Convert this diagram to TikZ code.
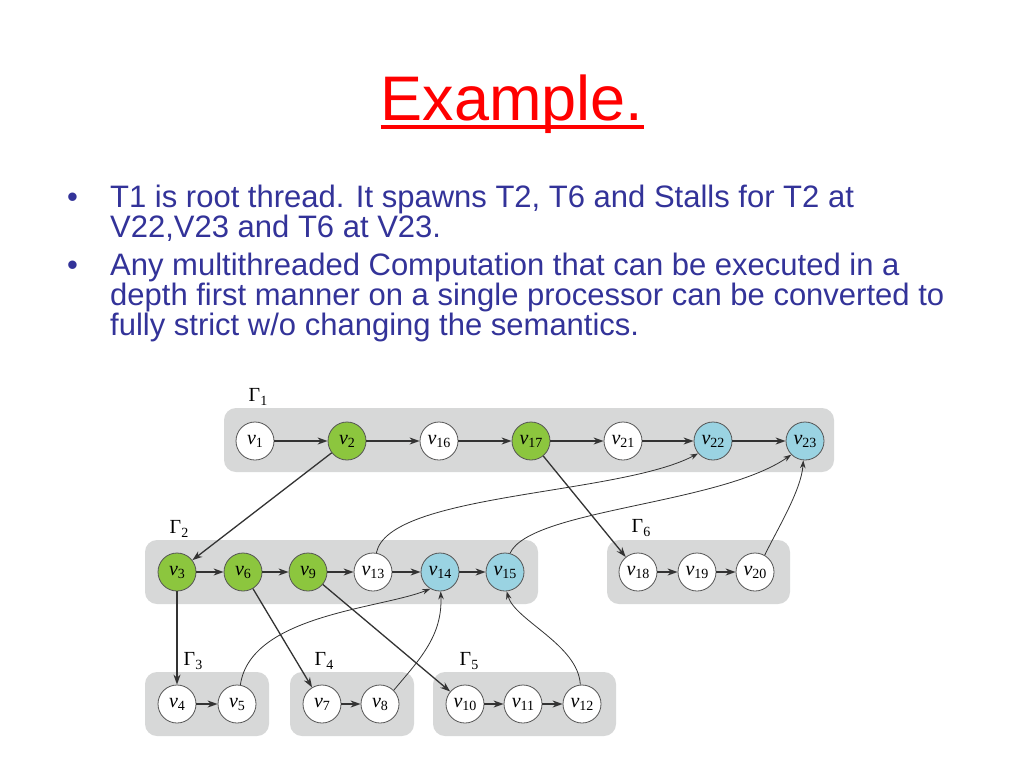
\documentclass[tikz,border=0pt]{standalone}
\usepackage{fontspec}
\setmainfont{Liberation Sans}
\newfontfamily\nodefont{Liberation Serif}
\usetikzlibrary{arrows.meta}
\definecolor{vgreen}{HTML}{8CC63E}
\definecolor{vblue}{HTML}{9AD3E2}
\definecolor{boxgray}{HTML}{D7D8D8}
\definecolor{tblue}{HTML}{333399}
\definecolor{linegray}{HTML}{333333}
\definecolor{rimgray}{HTML}{555555}
\newcommand\vl[1]{{\fontsize{20}{20}\selectfont\itshape v}\kern-0.3pt\raisebox{-3pt}{\fontsize{14}{14}\selectfont #1}}
\newcommand\gam[1]{{\fontsize{20}{20}\selectfont Γ}\raisebox{-4pt}{\fontsize{14}{14}\selectfont #1}}
\begin{document}
\begin{tikzpicture}[x=1pt,y=-1pt,
  vtx/.style={circle, draw=rimgray, line width=0.8pt, fill=white, minimum size=38pt, inner sep=0pt, font=\nodefont},
  grn/.style={vtx, fill=vgreen},
  blu/.style={vtx, fill=vblue},
  grp/.style={fill=boxgray, rounded corners=12pt},
  thk/.style={draw=linegray, line width=1.5pt, -{Stealth[length=10pt,width=7pt]}},
  thn/.style={draw=linegray, line width=0.8pt, -{Stealth[length=8pt,width=5.5pt]}},
  lab/.style={font=\nodefont, inner sep=0pt},
  txt/.style={font=\fontsize{31}{30}\selectfont, text=tblue, align=left, inner sep=0pt}]
\useasboundingbox (0,0) rectangle (1024,768);
\fill[white] (0,0) rectangle (1024,768);

% title
\node[font=\fontsize{63}{63}\selectfont, text=red, inner sep=0pt, anchor=base] (title) at (512,120) {Example.};
\draw[red, line width=4pt] ([yshift=-7pt]title.base west) -- ([yshift=-7pt]title.base east);

% bullets
\node[txt, anchor=base west] (d1) at (67,207) {•};
\node[txt, anchor=north west] (b1) at (110,184.5) {T1 is root thread. It spawns T2, T6 and Stalls for T2 at\\V22,V23 and T6 at V23.};
\node[txt, anchor=base west] (d2) at (67,275) {•};
\node[txt, anchor=north west] (b2) at (110,252.5) {Any multithreaded Computation that can be executed in a\\depth first manner on a single processor can be converted to\\fully strict w/o changing the semantics.};

% group boxes
\fill[grp] (224,408) rectangle (834,472);
\fill[grp] (145,540) rectangle (538,604);
\fill[grp] (607,540) rectangle (790,604);
\fill[grp] (145,672) rectangle (269,736);
\fill[grp] (290,672) rectangle (414,736);
\fill[grp] (433,672) rectangle (616,736);

% group labels
\node[lab] (g1) at (258,397) {\gam{1}};
\node[lab] (g2) at (179,529) {\gam{2}};
\node[lab] (g6) at (641,528) {\gam{6}};
\node[lab] (g3) at (193,661) {\gam{3}};
\node[lab] (g4) at (324,661) {\gam{4}};
\node[lab] (g5) at (469,661) {\gam{5}};

% row 1
\node[vtx] (v1)  at (255,441) {\vl{1}};
\node[grn] (v2)  at (347,441) {\vl{2}};
\node[vtx] (v16) at (439,441) {\vl{16}};
\node[grn] (v17) at (531,441) {\vl{17}};
\node[vtx] (v21) at (623,441) {\vl{21}};
\node[blu] (v22) at (713,441) {\vl{22}};
\node[blu] (v23) at (805,441) {\vl{23}};

% row 2
\node[grn] (v3)  at (177,572) {\vl{3}};
\node[grn] (v6)  at (243,572) {\vl{6}};
\node[grn] (v9)  at (308,572) {\vl{9}};
\node[vtx] (v13) at (373,572) {\vl{13}};
\node[blu] (v14) at (440,572) {\vl{14}};
\node[blu] (v15) at (505,572) {\vl{15}};
\node[vtx] (v18) at (638,572) {\vl{18}};
\node[vtx] (v19) at (697,572) {\vl{19}};
\node[vtx] (v20) at (755,572) {\vl{20}};

% row 3
\node[vtx] (v4)  at (177,704) {\vl{4}};
\node[vtx] (v5)  at (237,704) {\vl{5}};
\node[vtx] (v7)  at (322,704) {\vl{7}};
\node[vtx] (v8)  at (380,704) {\vl{8}};
\node[vtx] (v10) at (465,704) {\vl{10}};
\node[vtx] (v11) at (523,704) {\vl{11}};
\node[vtx] (v12) at (582,704) {\vl{12}};

% chains
\draw[thk] (v1) -- (v2);
\draw[thk] (v2) -- (v16);
\draw[thk] (v16) -- (v17);
\draw[thk] (v17) -- (v21);
\draw[thk] (v21) -- (v22);
\draw[thk] (v22) -- (v23);
\draw[thk] (v3) -- (v6);
\draw[thk] (v6) -- (v9);
\draw[thk] (v9) -- (v13);
\draw[thk] (v13) -- (v14);
\draw[thk] (v14) -- (v15);
\draw[thk] (v18) -- (v19);
\draw[thk] (v19) -- (v20);
\draw[thk] (v4) -- (v5);
\draw[thk] (v7) -- (v8);
\draw[thk] (v10) -- (v11);
\draw[thk] (v11) -- (v12);

% spawn edges
\draw[thk, line width=1.3pt] (v2) -- (v3);
\draw[thk, line width=1.3pt] (v17) -- (v18);
\draw[thk] (v3) -- (v4);
\draw[thk, line width=1.3pt] (v6) -- (v7);
\draw[thk, line width=1.3pt] (v9) -- (v10);

% sync edges
\draw[thn] (v13.80) .. controls +(12,-60) and +(-80,42) .. (v22.220);
\draw[thn] (v15.75) .. controls +(20,-44) and +(-72,50) .. (v23.225);
\draw[thn] (v20.60) .. controls +(12,-25) and +(-2,30) .. (v23.265);
\draw[thn] (v5.80) .. controls +(10,-70) and +(-50,20) .. (v14.240);
\draw[thn] (v8.45) .. controls +(25,-30) and +(2,45) .. (v14.272);
\draw[thn] (v12.95) .. controls +(-2,-40) and +(8,29) .. (v15.275);
\end{tikzpicture}
\end{document}
